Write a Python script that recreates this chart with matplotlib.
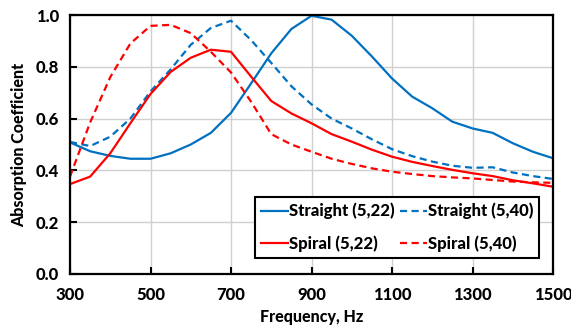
import numpy as np
import matplotlib
matplotlib.use("Agg")
import matplotlib.pyplot as plt

plt.rcParams['font.family'] = ['Lato', 'DejaVu Sans']
plt.rcParams['font.weight'] = 'black'

# frequency points (Hz)
freq = [300, 350, 400, 450, 500, 550, 600, 650, 700, 750, 800, 850, 900,
        950, 1000, 1050, 1100, 1150, 1200, 1250, 1300, 1350, 1400, 1450, 1500]

straight_22 = [0.508, 0.474, 0.456, 0.445, 0.445, 0.466, 0.500, 0.545, 0.622, 0.736,
               0.852, 0.946, 0.997, 0.982, 0.920, 0.840, 0.755, 0.685, 0.640, 0.588,
               0.562, 0.545, 0.505, 0.472, 0.447]
straight_40 = [0.510, 0.494, 0.530, 0.600, 0.705, 0.790, 0.885, 0.950, 0.978, 0.903,
               0.815, 0.725, 0.655, 0.600, 0.562, 0.520, 0.482, 0.455, 0.434, 0.418,
               0.410, 0.412, 0.392, 0.378, 0.367]
spiral_22 = [0.347, 0.376, 0.466, 0.582, 0.695, 0.780, 0.835, 0.866, 0.858, 0.762,
             0.668, 0.620, 0.582, 0.540, 0.511, 0.480, 0.453, 0.433, 0.417, 0.402,
             0.389, 0.378, 0.362, 0.350, 0.337]
spiral_40 = [0.376, 0.585, 0.760, 0.890, 0.958, 0.962, 0.930, 0.858, 0.778, 0.665,
             0.540, 0.500, 0.472, 0.445, 0.425, 0.408, 0.395, 0.386, 0.378, 0.373,
             0.369, 0.363, 0.357, 0.354, 0.352]

xticks = [300, 500, 700, 900, 1100, 1300, 1500]
yticks = [0.0, 0.2, 0.4, 0.6, 0.8, 1.0]

blue = '#0070C0'
red = '#FF0000'

fig = plt.figure(figsize=(5.71, 3.33), dpi=100)
ax = fig.add_axes([70/571, 1-274/333, 483/571, 259/333])

lw = 1.6
h1, = ax.plot(freq, straight_22, color=blue, lw=lw, label='Straight (5,22)')
h2, = ax.plot(freq, straight_40, color=blue, lw=lw, dashes=(3.2, 2), label='Straight (5,40)')
h3, = ax.plot(freq, spiral_22, color=red, lw=lw, label='Spiral (5,22)')
h4, = ax.plot(freq, spiral_40, color=red, lw=lw, dashes=(3.2, 2), label='Spiral (5,40)')

ax.set_xlim(300, 1500)
ax.set_ylim(0, 1.0)
ax.set_xticks(xticks)
ax.set_yticks(yticks)
ax.set_yticklabels(['%.1f' % v for v in yticks])
ax.grid(True, color='#d0d0d0', lw=1)
ax.set_axisbelow(True)
ax.tick_params(axis='both', direction='in', length=5, width=1.5, labelsize=12, color='black')
ax.tick_params(axis='x', pad=9)
ax.tick_params(axis='y', pad=8)
for s in ax.spines.values():
    s.set_linewidth(1.6)
    s.set_color('black')

ax.set_xlabel('Frequency, Hz', fontsize=11.5, fontweight='black', labelpad=5)
ax.set_ylabel('Absorption Coefficient', fontsize=11.5, fontweight='black', labelpad=6)

# legend order: row by row
leg = ax.legend([h1, h3, h2, h4], [h.get_label() for h in (h1, h3, h2, h4)],
                ncol=2, loc='lower right', bbox_to_anchor=(0.988, 0.031),
                prop={'size': 12, 'weight': 'black'}, frameon=True, fancybox=False,
                framealpha=1, edgecolor='black', handlelength=1.6, handletextpad=0.05,
                columnspacing=0.35, labelspacing=0.95, borderpad=0.35)
leg.get_frame().set_linewidth(1.5)

fig.savefig('out.png', dpi=100)
